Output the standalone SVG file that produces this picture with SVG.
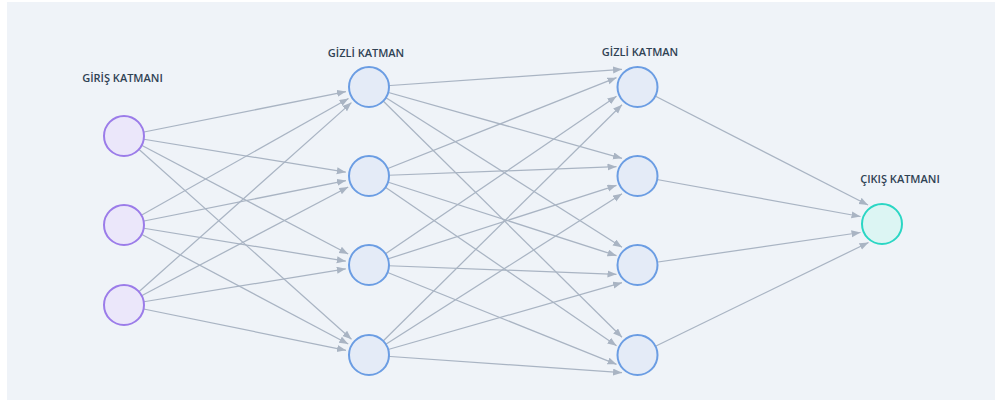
<svg xmlns="http://www.w3.org/2000/svg" width="995" height="400" viewBox="0 0 995 400">
  <defs>
    <marker id="arrow" markerUnits="userSpaceOnUse" markerWidth="10" markerHeight="8" refX="9" refY="3.5" orient="auto">
      <path d="M0,0 L9,3.5 L0,7 z" fill="#a9b4c3"/>
    </marker>
  </defs>
  <style>
    .edge { stroke: #a9b4c3; stroke-width: 1.25; fill: none; marker-end: url(#arrow); }
    .node circle { stroke-width: 2; }
    .in circle { fill: #ebe7fa; stroke: #9b7ce9; }
    .hid circle { fill: #e4ebf7; stroke: #6b9de3; }
    .out circle { fill: #dcf5f3; stroke: #2bd6c4; }
    .label { font-family: "Open Sans", "Liberation Sans", sans-serif; font-size: 11px; font-weight: 600; fill: #2f4254; text-anchor: middle; }
  </style>

  <!-- panel -->
  <rect x="0" y="0" width="995" height="400" fill="#ffffff"/>
  <rect x="7" y="2" width="988" height="398" fill="#eff3f8"/>

  <!-- connectors: drawn from source centres, arrow tips on the target rim -->
  <g id="edges">
    <!-- input -> hidden 1 -->
    <line class="edge" x1="124" y1="136" x2="345.96" y2="91.61"/>
    <line class="edge" x1="124" y1="136" x2="345.81" y2="172.21"/>
    <line class="edge" x1="124" y1="136" x2="348.21" y2="254.05"/>
    <line class="edge" x1="124" y1="136" x2="351.48" y2="339.34"/>
    <line class="edge" x1="124" y1="225" x2="348.52" y2="98.53"/>
    <line class="edge" x1="124" y1="225" x2="345.96" y2="180.61"/>
    <line class="edge" x1="124" y1="225" x2="345.81" y2="261.21"/>
    <line class="edge" x1="124" y1="225" x2="348.24" y2="343.99"/>
    <line class="edge" x1="124" y1="305" x2="351.44" y2="102.62"/>
    <line class="edge" x1="124" y1="305" x2="348.21" y2="186.95"/>
    <line class="edge" x1="124" y1="305" x2="345.81" y2="268.79"/>
    <line class="edge" x1="124" y1="305" x2="345.97" y2="350.3"/>
    <!-- hidden 1 -> hidden 2 -->
    <line class="edge" x1="369" y1="87" x2="622" y2="69.3"/>
    <line class="edge" x1="369" y1="87" x2="622" y2="158.3"/>
    <line class="edge" x1="369" y1="87" x2="622" y2="247.3"/>
    <line class="edge" x1="369" y1="87" x2="622" y2="337.3"/>
    <line class="edge" x1="369" y1="176" x2="616.5" y2="77.7"/>
    <line class="edge" x1="369" y1="176" x2="616.5" y2="166.7"/>
    <line class="edge" x1="369" y1="176" x2="616.5" y2="255.7"/>
    <line class="edge" x1="369" y1="176" x2="616.5" y2="345.7"/>
    <line class="edge" x1="369" y1="265" x2="616.5" y2="96.3"/>
    <line class="edge" x1="369" y1="265" x2="616.5" y2="185.3"/>
    <line class="edge" x1="369" y1="265" x2="616.5" y2="274.3"/>
    <line class="edge" x1="369" y1="265" x2="616.5" y2="364.3"/>
    <line class="edge" x1="369" y1="355" x2="622" y2="104.7"/>
    <line class="edge" x1="369" y1="355" x2="622" y2="193.7"/>
    <line class="edge" x1="369" y1="355" x2="622" y2="282.7"/>
    <line class="edge" x1="369" y1="355" x2="622" y2="372.7"/>
    <!-- hidden 2 -> output -->
    <line class="edge" x1="637.5" y1="87" x2="868" y2="205"/>
    <line class="edge" x1="637.5" y1="176" x2="860.5" y2="216.5"/>
    <line class="edge" x1="637.5" y1="265" x2="860.5" y2="232.5"/>
    <line class="edge" x1="637.5" y1="355" x2="868.5" y2="242.5"/>
  </g>

  <!-- input layer -->
  <g id="in1" class="node in"><circle cx="124" cy="136" r="20"/></g>
  <g id="in2" class="node in"><circle cx="124" cy="225" r="20"/></g>
  <g id="in3" class="node in"><circle cx="124" cy="305" r="20"/></g>

  <!-- hidden layer 1 -->
  <g id="h1a" class="node hid"><circle cx="369" cy="87" r="20"/></g>
  <g id="h1b" class="node hid"><circle cx="369" cy="176" r="20"/></g>
  <g id="h1c" class="node hid"><circle cx="369" cy="265" r="20"/></g>
  <g id="h1d" class="node hid"><circle cx="369" cy="355" r="20"/></g>

  <!-- hidden layer 2 -->
  <g id="h2a" class="node hid"><circle cx="637.5" cy="87" r="20"/></g>
  <g id="h2b" class="node hid"><circle cx="637.5" cy="176" r="20"/></g>
  <g id="h2c" class="node hid"><circle cx="637.5" cy="265" r="20"/></g>
  <g id="h2d" class="node hid"><circle cx="637.5" cy="355" r="20"/></g>

  <!-- output layer -->
  <g id="out1" class="node out"><circle cx="882" cy="224" r="20"/></g>

  <!-- layer titles -->
  <g id="labels">
    <text class="label" x="122.5" y="82">GİRİŞ KATMANI</text>
    <text class="label" x="366" y="57">GİZLİ KATMAN</text>
    <text class="label" x="640" y="56">GİZLİ KATMAN</text>
    <text class="label" x="900" y="183">ÇIKIŞ KATMANI</text>
  </g>
</svg>
